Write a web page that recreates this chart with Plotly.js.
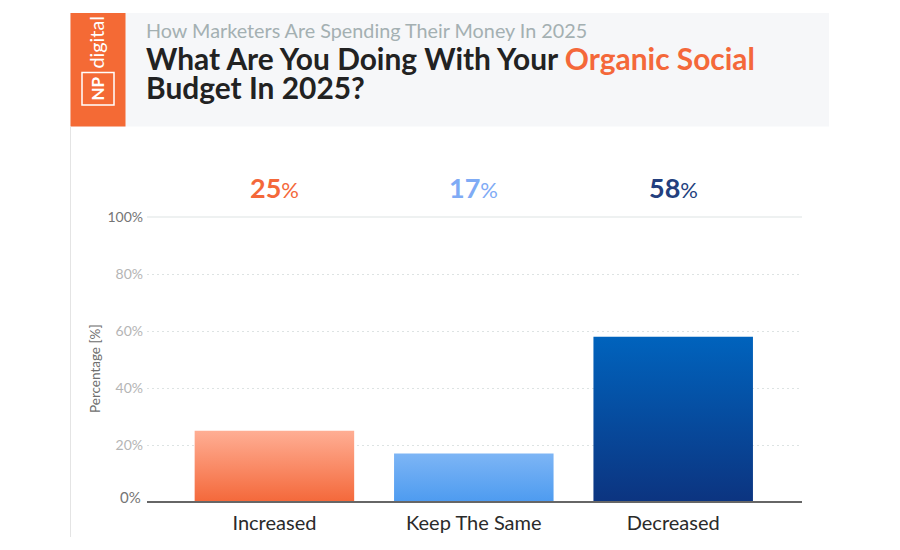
<!DOCTYPE html>
<html><head><meta charset="utf-8">
<script src="https://cdn.plot.ly/plotly-3.0.1.min.js"></script>
<style>html,body{margin:0;padding:0;background:#fff}</style></head>
<body><div id="chart" style="width:900px;height:550px"></div>
<script>
const categories = ["Increased", "Keep The Same", "Decreased"];
const values = [25, 17, 58];
const valueColors = ["#F4683A", "#7FABF5", "#233F7E"];
const gradients = [["#FFAE94", "#F4683A"], ["#7DB5F5", "#4D9BF0"], ["#0063BD", "#0C3480"]];
const tickVals = [0, 20, 40, 60, 80, 100];
const tickText = ["", "20%", "40%", "60%", "80%", "<span style='color:#757575'>100%</span>"];
const zeroLabel = "0%";
const subtitle = "How Marketers Are Spending Their Money In 2025";
const titleLine1 = "<b>What Are You Doing With Your <span style='color:#F4683A'>Organic Social</span></b>";
const titleLine2 = "<b>Budget In 2025?</b>";
const yTitle = "Percentage [%]";
const FONT = "Lato, 'Open Sans', sans-serif";

const W = 900, H = 550;
const L = 147, R = 802, T = 217, B = 502;
const pxp = v => (v - L) / (R - L), pyp = v => (B - v) / (B - T);

const shapes = [
  {type:"rect", xref:"paper", yref:"paper", x0:pxp(70), x1:pxp(829), y0:pyp(126.5), y1:pyp(13), fillcolor:"#F6F7F9", line:{width:0}, layer:"below"},
  {type:"rect", xref:"paper", yref:"paper", x0:pxp(70.5), x1:pxp(125.5), y0:pyp(126.5), y1:pyp(13), fillcolor:"#F46A35", line:{width:0}, layer:"below"},
  {type:"line", xref:"paper", yref:"paper", x0:pxp(70.5), x1:pxp(70.5), y0:pyp(537), y1:pyp(126.5), line:{color:"#E4E4E4", width:1}, layer:"below"},
  {type:"rect", xref:"paper", yref:"paper", x0:pxp(82), x1:pxp(114), y0:pyp(105), y1:pyp(72.5), fillcolor:"rgba(0,0,0,0)", line:{color:"#FFFFFF", width:1.5}},
  {type:"line", xref:"paper", yref:"paper", x0:0, x1:1, y0:1, y1:1, line:{color:"#DDE3E3", width:1.2}, layer:"below"},
  {type:"line", xref:"paper", yref:"paper", x0:0, x1:1, y0:0, y1:0, line:{color:"#666666", width:2}}
];

const annotations = [
  {xref:"paper", yref:"paper", x:pxp(144), y:pyp(29.5), xanchor:"left", yanchor:"middle", showarrow:false, text:subtitle, font:{family:FONT, size:19.8, color:"#A4B0B2"}},
  {xref:"paper", yref:"paper", x:pxp(144), y:pyp(57.5), xanchor:"left", yanchor:"middle", align:"left", showarrow:false, text:titleLine1, font:{family:FONT, size:29.9, weight:900, color:"#222222"}},
  {xref:"paper", yref:"paper", x:pxp(144), y:pyp(87.5), xanchor:"left", yanchor:"middle", align:"left", showarrow:false, text:titleLine2, font:{family:FONT, size:29.9, weight:900, color:"#222222"}},
  {xref:"paper", yref:"paper", x:pxp(95), y:pyp(42.5), xanchor:"center", yanchor:"middle", showarrow:false, text:"digital", textangle:-90, font:{family:FONT, size:19.8, color:"#FFFFFF"}},
  {xref:"paper", yref:"paper", x:pxp(97.5), y:pyp(89), xanchor:"center", yanchor:"middle", showarrow:false, text:"<b>NP</b>", textangle:-90, font:{family:FONT, size:17, color:"#FFFFFF"}},
  {xref:"paper", yref:"paper", x:pxp(95), y:pyp(369), xanchor:"center", yanchor:"middle", showarrow:false, text:yTitle, textangle:-90, font:{family:FONT, size:13.5, color:"#6E6E6E"}},
  {xref:"paper", yref:"paper", x:pxp(143), y:pyp(497), xanchor:"right", yanchor:"middle", showarrow:false, text:zeroLabel, font:{family:FONT, size:15, color:"#757575"}}
];
categories.forEach((c, i) => annotations.push({
  xref:"x", yref:"paper", x:c, y:pyp(188), xanchor:"center", yanchor:"middle", showarrow:false,
  text:"<b>" + values[i] + "</b><span style='font-size:22px;font-weight:400'>%</span>",
  font:{family:FONT, size:27, weight:900, color:valueColors[i]}
}));

const trace = {type:"bar", x:categories, y:values, width:0.8,
  marker:{color:gradients.map(g => g[1]), line:{width:0}}, hoverinfo:"x+y", cliponaxis:false};
const layout = {
  width:W, height:H, margin:{l:L, r:W-R, t:T, b:H-B, pad:0}, paper_bgcolor:"#fff", plot_bgcolor:"#fff",
  showlegend:false, font:{family:FONT}, shapes, annotations,
  xaxis:{type:"category", range:[-0.639, 2.646], showgrid:false, zeroline:false, showline:false, ticks:"",
    ticklabelstandoff:7, tickfont:{family:FONT, size:20, color:"#2A2A2A"}},
  yaxis:{range:[0, 100], tickmode:"array", tickvals:tickVals, ticktext:tickText, showline:false, zeroline:false,
    gridcolor:"#DDE3E3", griddash:"2px,3px", gridwidth:1, ticks:"", ticklabelstandoff:3,
    tickfont:{family:FONT, size:14, color:"#B5B5B5"}}
};
Plotly.newPlot("chart", [trace], layout, {displayModeBar:false}).then(gd => {
  const svg = gd.querySelector("svg.main-svg");
  const NS = "http://www.w3.org/2000/svg";
  const defs = svg.querySelector("defs") || svg.insertBefore(document.createElementNS(NS, "defs"), svg.firstChild);
  gd.querySelectorAll(".barlayer .point path").forEach((p, i) => {
    const g = document.createElementNS(NS, "linearGradient");
    g.setAttribute("id", "barGrad" + i);
    g.setAttribute("x1", "0"); g.setAttribute("y1", "0"); g.setAttribute("x2", "0"); g.setAttribute("y2", "1");
    gradients[i].forEach((col, k) => {
      const s = document.createElementNS(NS, "stop");
      s.setAttribute("offset", k ? "100%" : "0%"); s.setAttribute("stop-color", col);
      g.appendChild(s);
    });
    defs.appendChild(g);
    p.style.fill = "url(#barGrad" + i + ")";
  });
});
</script></body></html>
